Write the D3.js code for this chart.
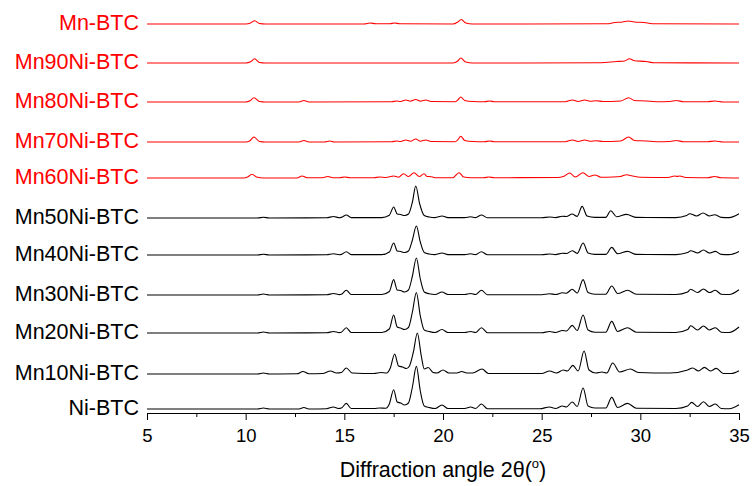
<!DOCTYPE html>
<html>
<head>
<meta charset="utf-8">
<script src="https://cdn.jsdelivr.net/npm/d3@7"></script>
<style>
	body { margin: 0; background: #fff; }
	svg { display: block; font-family: Arial, 'Liberation Sans', sans-serif; }
	.axis path, .axis line { stroke: #000; stroke-width: 1; }
	.axis text { font-size: 18.5px; fill: #000; }
	.label--series { font-size: 21.5px; }
	.label--x { font-size: 21.5px; }
</style>
</head>
<body>
<div class="graphic__chart"></div>
<script>
const margin = { top: 13, right: 13, bottom: 73, left: 147 }
const chart = d3.select('.graphic__chart')

// sample names, bottom to top
const names = ['Ni-BTC', 'Mn10Ni-BTC', 'Mn20Ni-BTC', 'Mn30Ni-BTC', 'Mn40Ni-BTC', 'Mn50Ni-BTC',
	'Mn60Ni-BTC', 'Mn70Ni-BTC', 'Mn80Ni-BTC', 'Mn90Ni-BTC', 'Mn-BTC']
// vertical offset of each pattern (a.u.)
const offsets = [4, 39, 80, 118, 158, 195, 235, 271, 311, 350, 389]
const colors = ['#000', '#000', '#000', '#000', '#000', '#000', '#f00', '#f00', '#f00', '#f00', '#f00']
const xTicks = [5, 10, 15, 20, 25, 30, 35]
const xMinor = [7.5, 12.5, 17.5, 22.5, 27.5, 32.5]

// [2theta, intensity]
const niBTC = [[5,0],[10.6,0],[10.9,1],[11.2,0],[12.7,0],[12.95,1.5],[13.2,0],[14.1,0.3],[14.45,2],[14.7,0.5],[14.85,1],[15.1,5.6],[15.35,0.5],[16.5,0.5],[16.8,1],[17.1,0.8],[17.28,5],[17.5,19.3],[17.68,7],[17.85,6],[18.05,4],[18.25,6],[18.45,22],[18.65,42.6],[18.85,18],[19.05,3],[19.3,1.5],[19.6,0.5],[19.95,4],[20.25,0.5],[21.1,0.5],[21.4,2],[21.65,0.5],[21.95,5],[22.25,0.3],[24.9,0.2],[25.4,2],[25.7,0.5],[26.05,3],[26.25,2],[26.55,7],[26.8,2.5],[27.1,21],[27.35,3],[27.7,1],[28.25,1],[28.55,11.6],[28.85,1.5],[29.35,5.6],[29.8,0.8],[31.8,0.5],[32.4,3],[32.6,6.6],[32.9,2.5],[33.2,7.3],[33.5,2.5],[33.8,5],[34.1,0.5],[34.5,0.3],[35,4.3]]
const mn10 = [[5,0],[10.6,0],[10.9,1],[11.2,0],[12.6,0.2],[12.9,2.5],[13.2,0.3],[13.9,0.5],[14.3,3],[14.6,1],[14.85,1.5],[15.1,6],[15.4,1],[16.5,0.5],[16.85,1.5],[17.15,1],[17.33,6],[17.55,20],[17.75,8],[17.95,7],[18.15,5.5],[18.3,8],[18.5,22],[18.7,41],[18.9,18],[19.05,5],[19.25,6.5],[19.5,1.5],[19.7,1],[20,4],[20.3,1],[20.7,1],[20.95,2.5],[21.2,1],[21.5,1],[21.98,5],[22.3,0.5],[25,0.5],[25.4,3],[25.75,1],[26.1,4],[26.3,3],[26.58,8.6],[26.85,3],[27.15,23],[27.4,4],[27.75,1],[28.05,2],[28.3,1],[28.6,11],[28.95,2],[29.5,5],[29.9,1.5],[31.5,1],[32.4,4],[32.65,6],[32.95,3],[33.25,6.6],[33.55,3],[33.85,5.6],[34.2,0.5],[34.6,0.5],[35,3.3]]
const mn20 = [[5,0],[10.6,0],[10.9,1],[11.2,0],[14.1,0.2],[14.45,1.5],[14.75,0.4],[14.85,0.8],[15.1,5.3],[15.35,0.5],[16.9,0.5],[17.28,4],[17.5,18],[17.68,6],[17.85,5],[18.05,3.5],[18.25,5.5],[18.45,21],[18.65,40.5],[18.85,17],[19.05,3],[19.3,1.5],[19.6,0.5],[19.95,3.5],[20.25,0.5],[21.1,0.5],[21.4,1.5],[21.65,0.5],[21.95,5.3],[22.25,0.3],[25,0.3],[25.4,1.5],[25.7,0.5],[26.05,2.5],[26.25,2],[26.55,7.6],[26.8,2.5],[27.1,18],[27.35,3],[27.7,0.8],[28.25,0.8],[28.55,11.6],[28.85,1.5],[29.35,5.3],[29.8,0.8],[31.8,0.5],[32.4,3.5],[32.55,7.3],[32.9,3],[33.2,7],[33.5,3],[33.8,5.3],[34.1,0.8],[34.5,0.5],[35,6]]
const mn30 = [[5,0],[10.6,0],[10.9,1],[11.2,0],[14.1,0.2],[14.45,1.5],[14.75,0.4],[14.85,0.8],[15.1,4.7],[15.35,0.5],[16.9,0.5],[17.28,3.5],[17.5,15.4],[17.68,5],[17.85,4.5],[18.05,3],[18.25,5],[18.45,19],[18.65,37],[18.85,16],[19.05,3],[19.3,1.2],[19.6,0.5],[19.95,3],[20.25,0.5],[21.1,0.5],[21.4,1.5],[21.65,0.5],[21.95,4.7],[22.25,0.3],[25,0.3],[25.4,1.2],[25.7,0.5],[26.05,2.2],[26.25,1.8],[26.55,5.7],[26.8,2],[27.1,15.4],[27.35,2.5],[27.7,0.8],[28.25,0.8],[28.55,9],[28.85,1.5],[29.35,4.7],[29.8,0.8],[31.8,0.5],[32.4,3],[32.55,5.7],[32.9,2.5],[33.2,6],[33.5,2.5],[33.8,4.7],[34.1,0.8],[34.5,0.5],[35,5.3]]
const mn40 = [[5,0],[10.6,0],[10.9,0.8],[11.2,0],[14.1,0.2],[14.45,1.2],[14.75,0.3],[14.85,0.6],[15.1,3.3],[15.35,0.4],[16.9,0.4],[17.28,3],[17.5,12],[17.68,4],[17.85,3.5],[18.05,2.5],[18.25,4],[18.45,15],[18.65,29],[18.85,13],[19.05,2.5],[19.3,1],[19.6,0.4],[19.95,2],[20.25,0.4],[21.1,0.4],[21.4,1.2],[21.65,0.4],[21.95,3.3],[22.25,0.3],[25,0.3],[25.4,1],[25.7,0.4],[26.05,1.8],[26.25,1.5],[26.55,4.3],[26.8,1.6],[27.1,12],[27.35,2],[27.7,0.6],[28.25,0.6],[28.55,7.6],[28.85,1.2],[29.35,3.6],[29.8,0.6],[31.8,0.4],[32.4,2.5],[32.55,4.3],[32.9,2],[33.2,5],[33.5,2],[33.8,3.6],[34.1,0.6],[34.5,0.4],[35,3.6]]
const mn50 = [[5,0],[10.6,0],[10.9,0.8],[11.2,0],[14.1,0.2],[14.45,1.5],[14.75,0.3],[14.85,0.6],[15.1,3],[15.35,0.4],[16.9,0.4],[17.28,2.8],[17.5,11],[17.68,4],[17.85,3.5],[18.05,2.5],[18.25,4],[18.45,16],[18.62,32],[18.82,14],[19.05,2.5],[19.3,1],[19.6,0.4],[19.95,2],[20.25,0.4],[21.1,0.4],[21.4,1.2],[21.65,0.4],[21.95,3],[22.25,0.3],[25,0.3],[25.4,1],[25.7,0.4],[26.05,1.8],[26.25,1.5],[26.55,4],[26.8,1.6],[27.05,11.6],[27.3,2],[27.7,0.6],[28.25,0.6],[28.5,7.3],[28.8,1.2],[29.3,3.6],[29.8,0.6],[31.8,0.4],[32.35,2.5],[32.5,4.3],[32.85,2],[33.18,5],[33.5,2],[33.77,3.3],[34.1,0.6],[34.5,0.4],[35,4.3]]
const mn60 = [[5,0],[9.9,0],[10.1,1],[10.32,3.7],[10.55,1],[10.9,0],[12.6,0],[12.86,2],[13.1,0.3],[13.9,0.3],[14.17,1.5],[14.4,0.3],[14.75,0.3],[15,1],[15.3,0.3],[16.5,0.3],[16.8,1],[17.1,0.5],[17.5,2],[17.75,0.8],[18,4.3],[18.25,1.5],[18.53,5.3],[18.8,1.5],[19.04,4.3],[19.2,1.5],[19.33,1.5],[19.6,0.3],[20.5,0.3],[20.81,5.3],[21.05,1],[21.4,0.3],[22.05,0.3],[22.33,1],[22.6,0.3],[25.8,0.5],[26.1,1.5],[26.42,5],[26.7,1],[27.1,5.3],[27.4,1.5],[27.7,3],[28,0.8],[28.6,1],[29,1.5],[29.3,3.3],[29.6,2],[30,0.8],[31.4,0.5],[31.74,2],[31.87,1.6],[32,2],[32.3,0.5],[33.4,0.3],[33.77,1.5],[34.1,0.2],[35,0]]
const mn70 = [[5,0],[10,0],[10.22,1.3],[10.42,5],[10.7,0.5],[11,0],[12.7,0],[12.95,1.5],[13.2,0],[14,0],[14.26,1],[14.5,0],[17.4,0.3],[17.65,1],[17.85,0.5],[18.1,2],[18.35,0.8],[18.62,3],[18.85,0.8],[19.13,2],[19.4,0.5],[20.6,0.3],[20.75,2.2],[20.9,5.7],[21.1,1.5],[21.5,0.5],[22.1,0.3],[22.37,1],[22.6,0.3],[26.2,0.3],[26.56,2],[26.85,0.5],[27.18,2],[27.45,0.8],[27.77,1.2],[28.1,0.5],[29,1],[29.41,5],[29.7,1.5],[30.3,1],[30.8,0.3],[31.5,0.5],[31.83,1.5],[32.2,0.3],[33.4,0.3],[33.77,1],[34.2,0],[35,0]]
const mn80 = [[5,0],[10,0],[10.22,1.2],[10.42,4.3],[10.7,0.5],[11,0],[12.7,0],[12.95,1.5],[13.2,0],[17.4,0.3],[17.65,1],[17.85,0.5],[18.1,2],[18.35,0.8],[18.62,2.5],[18.85,0.8],[19.13,2],[19.4,0.5],[20.6,0.3],[20.75,2],[20.9,5],[21.1,1.5],[21.5,0.5],[22.1,0.3],[22.37,1],[22.6,0.3],[26.2,0.3],[26.56,2],[26.85,0.5],[27.18,2],[27.45,0.8],[27.77,1.2],[28.1,0.5],[29,1],[29.41,4.3],[29.7,1.5],[30.3,1],[30.8,0.3],[31.5,0.5],[31.83,1.5],[32.2,0.3],[33.4,0.3],[33.77,1],[34.2,0],[35,0]]
const mn90 = [[5,0],[10,0],[10.25,1.2],[10.45,4.3],[10.7,0.5],[11,0],[20.5,0],[20.75,2],[20.9,5],[21.15,1],[21.5,0],[28,0.3],[28.8,1.5],[29.2,2],[29.45,4.3],[29.7,2.2],[30.3,1.5],[30.7,0.2],[35,0]]
const mnBTC = [[5,0],[10,0],[10.25,1],[10.45,3.3],[10.7,0.5],[11,0],[16,0],[16.3,1],[16.6,0.3],[17.3,0.3],[17.55,1],[17.8,0.2],[20.5,0],[20.75,2],[20.93,4.5],[21.15,1],[21.5,0],[28.4,0.3],[28.7,1.5],[29.1,2],[29.4,3],[29.7,2],[30.2,1.5],[30.6,0.3],[35,0]]

const patterns = [niBTC, mn10, mn20, mn30, mn40, mn50, mn60, mn70, mn80, mn90, mnBTC]

const scale = { x: null, y: null }

function createChart() {
	const width = 752 - (margin.left + margin.right)
	const height = 486 - (margin.top + margin.bottom)

	const svg = chart.append('svg')
		.attr('width', 752)
		.attr('height', 486)

	const g = svg.append('g')
		.attr('transform', `translate(${margin.left},${margin.top})`)

	scale.x = d3.scaleLinear().domain([5, 35]).range([0, width])
	scale.y = d3.scaleLinear().domain([0, 400]).range([height, 0])

	const series = names.map((name, i) => ({
		name,
		offset: offsets[i],
		color: colors[i],
		values: patterns[i],
	}))

	// patterns
	const line = off => d3.line()
		.x(d => scale.x(d[0]))
		.y(d => scale.y(d[1] + off))
		.curve(d3.curveMonotoneX)

	g.append('g')
		.selectAll('path')
		.data(series)
		.enter().append('path')
			.attr('fill', 'none')
			.attr('stroke', d => d.color)
			.attr('stroke-width', 1.1)
			.attr('stroke-linejoin', 'round')
			.attr('d', d => line(d.offset)(d.values))

	// sample labels
	g.append('g')
		.selectAll('text')
		.data(series)
		.enter().append('text')
			.attr('class', 'label--series')
			.attr('x', -8)
			.attr('y', d => scale.y(d.offset) - 1)
			.attr('text-anchor', 'end')
			.attr('dominant-baseline', 'central')
			.attr('fill', d => d.color)
			.text(d => d.name)

	// axis
	g.append('g')
		.attr('class', 'axis axis--x-minor')
		.attr('transform', `translate(0,${height})`)
		.call(d3.axisBottom(scale.x).tickValues(xMinor).tickSize(4).tickSizeOuter(0).tickFormat(''))

	g.append('g')
		.attr('class', 'axis axis--x')
		.attr('transform', `translate(0,${height})`)
		.call(d3.axisBottom(scale.x).tickValues(xTicks).tickSize(7).tickSizeOuter(0).tickPadding(9))
		.selectAll('text')
			.attr('font-family', 'Arial, Liberation Sans, sans-serif')

	const label = svg.append('text')
		.attr('class', 'label--x')
		.attr('text-anchor', 'middle')
		.attr('x', margin.left + width / 2)
		.attr('y', 477)
	label.append('tspan').text('Diffraction angle 2θ(')
	label.append('tspan').attr('dy', -9).attr('font-size', 13).text('o')
	label.append('tspan').attr('dy', 9).text(')')
}

createChart()
</script>
</body>
</html>
